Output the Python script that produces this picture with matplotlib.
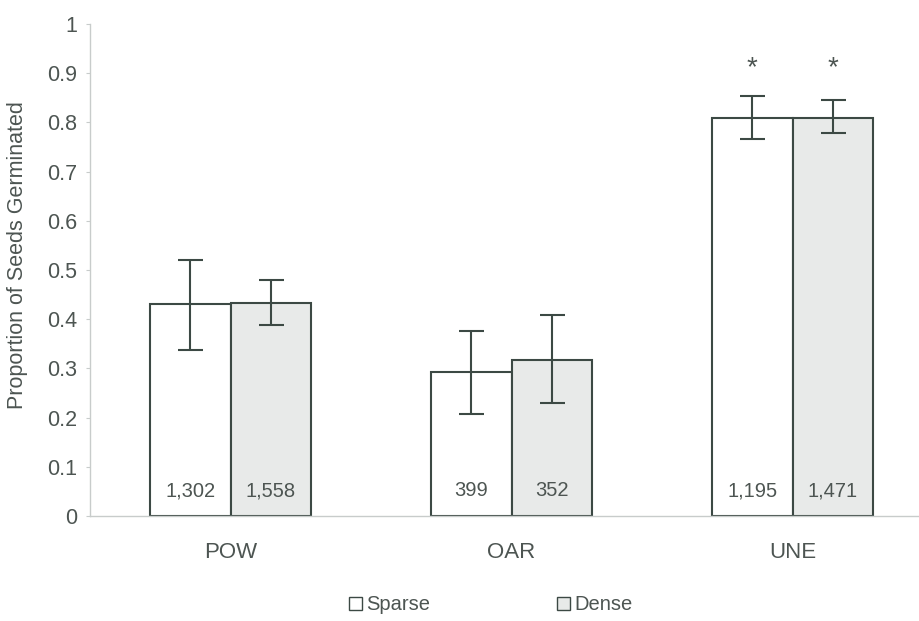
import numpy as np
import matplotlib.pyplot as plt
from matplotlib.patches import Patch

plt.rcParams['font.family'] = ['Liberation Sans', 'DejaVu Sans']

sites = ['POW', 'OAR', 'UNE']
sparse = [0.43, 0.293, 0.809]
dense = [0.433, 0.318, 0.809]
sparse_lo = [0.338, 0.207, 0.767]
sparse_hi = [0.521, 0.376, 0.853]
dense_lo = [0.389, 0.230, 0.778]
dense_hi = [0.480, 0.409, 0.845]
sparse_n = ['1,302', '399', '1,195']
dense_n = ['1,558', '352', '1,471']
signif = [False, False, True]

txt = '#4d5552'
edge = '#3c4944'
fill = '#e8eae9'

fig = plt.figure(figsize=(9.2, 6.21), dpi=100)
# axes runs past the right edge of the figure, like the cropped original
ax = fig.add_axes([90 / 920, 1 - 516 / 621, 843 / 920, 492 / 621])

x = np.arange(len(sites))
w = 0.287
ax.bar(x - w / 2, sparse, w, color='white', edgecolor=edge, linewidth=1.5, zorder=2)
ax.bar(x + w / 2, dense, w, color=fill, edgecolor=edge, linewidth=1.5, zorder=2)

for xs, v, lo, hi in [(x - w / 2, sparse, sparse_lo, sparse_hi),
                      (x + w / 2, dense, dense_lo, dense_hi)]:
    v = np.array(v)
    err = [v - np.array(lo), np.array(hi) - v]
    ax.errorbar(xs, v, yerr=err, fmt='none', ecolor=edge, elinewidth=1.5,
                capsize=9, capthick=1.5, zorder=3)

for i in range(len(sites)):
    ax.text(x[i] - w / 2, 0.032, sparse_n[i], ha='center', va='bottom', fontsize=14.5, color=txt, zorder=4)
    ax.text(x[i] + w / 2, 0.032, dense_n[i], ha='center', va='bottom', fontsize=14.5, color=txt, zorder=4)
    if signif[i]:
        ax.text(x[i] - w / 2, sparse_hi[i] + 0.03, '*', ha='center', va='bottom', fontsize=20, color=txt)
        ax.text(x[i] + w / 2, dense_hi[i] + 0.038, '*', ha='center', va='bottom', fontsize=20, color=txt)

ax.set_xlim(-0.5, 2.5)
ax.set_ylim(0, 1)
ax.set_yticks(np.arange(0, 1.01, 0.1))
ax.set_yticklabels(['0'] + ['%.1f' % t for t in np.arange(0.1, 0.95, 0.1)] + ['1'])
ax.set_xticks(x)
ax.set_xticklabels(sites)
ax.tick_params(axis='y', length=3, color='#c8cccb', labelsize=15.5, labelcolor=txt, pad=6)
ax.tick_params(axis='x', length=0, labelsize=16, labelcolor=txt, pad=19)
for s in ['top', 'right']:
    ax.spines[s].set_visible(False)
for s in ['left', 'bottom']:
    ax.spines[s].set_color('#c8cccb')
    ax.spines[s].set_linewidth(1)
ax.set_ylabel('Proportion of Seeds Germinated', fontsize=15.5, color=txt)
ax.yaxis.set_label_coords(-0.073, 0.53)

handles = [Patch(facecolor='white', edgecolor=edge, label='Sparse'),
           Patch(facecolor=fill, edgecolor=edge, label='Dense')]
fig.legend(handles=handles, loc='center', bbox_to_anchor=(491 / 920, 1 - 605 / 621), ncol=2,
           frameon=False, fontsize=14.5, labelcolor=txt, handlelength=0.65, handleheight=0.65,
           handletextpad=0.2, columnspacing=6.3)

fig.savefig('out.png', dpi=100)
